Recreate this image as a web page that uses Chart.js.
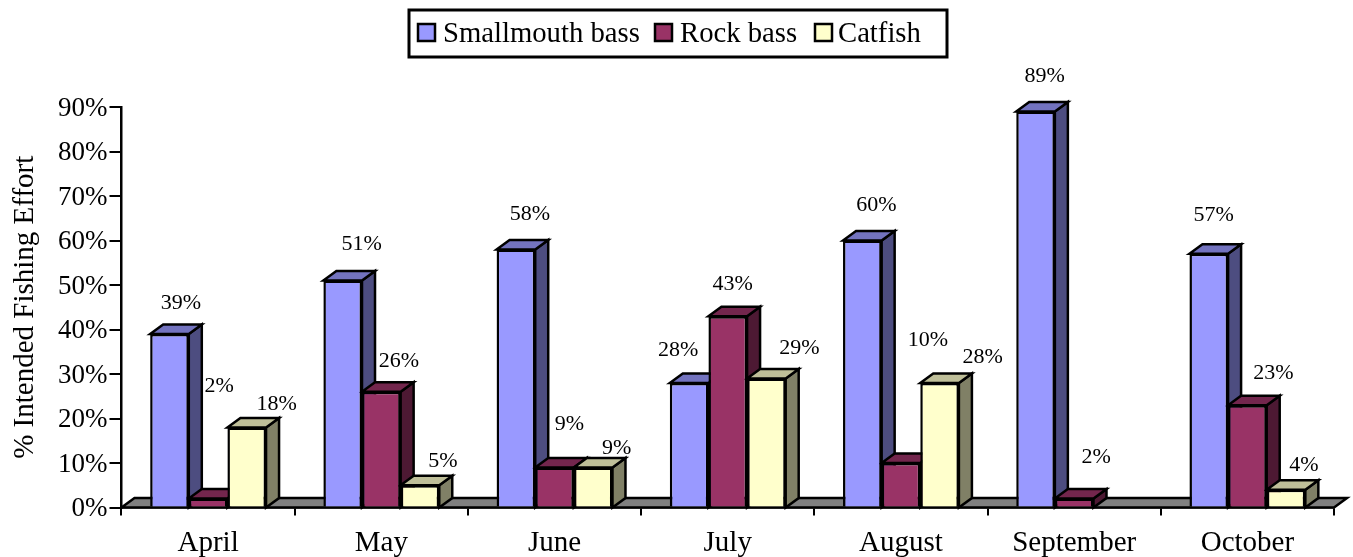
<!DOCTYPE html>
<html>
<head>
<meta charset="utf-8">
<title>Intended fishing effort</title>
<script src="https://cdn.jsdelivr.net/npm/chart.js@4"></script>
<style>
    html, body { margin: 0; padding: 0; background: #fff; }
    canvas { display: block; }
</style>
</head>
<body>
<canvas id="effort-chart" width="1353" height="557"></canvas>
<script>
const months = ['April', 'May', 'June', 'July', 'August', 'September', 'October'];
const smallmouthBass = [39, 51, 58, 28, 60, 89, 57];
const rockBass = [2, 26, 9, 43, 10, 2, 23];
const catfish = [18, 5, 9, 29, 28, null, 4];
const yTicks = [0, 10, 20, 30, 40, 50, 60, 70, 80, 90];

// hand placed data labels, [dx, dy] from the top centre of each bar
const labelOffsets = [
    [[11.5, -31], [19, -36.5], [14, -35.4], [-11, -33], [14, -35.5], [9, -35.4], [5, -39]],
    [[11, -112.6], [17.5, -31], [15, -43.5], [5, -32], [27, -123], [22, -41.6], [26, -32]],
    [[30, -23], [23, -24], [23.5, -19.5], [33, -30], [43, -26], [0, 0], [18, -24]],
];

const SERIF = '"Liberation Serif", serif';
const DEPTH_X = 13;
const DEPTH_Y = 9.5;

// side and top colours of each series, the front colour comes from the dataset
const sideColors = ['#4D4D80', '#4D1933', '#808066'];
const topColors = ['#7373BF', '#73264D', '#BFBF99'];

// legend swatch left edges and the gap from swatch edge to text
const legendX = [418, 655, 815];
const legendTextX = [443, 680, 838];

const polygon = (ctx, points, fill) => {
    ctx.beginPath();
    points.forEach((p, i) => i ? ctx.lineTo(p[0], p[1]) : ctx.moveTo(p[0], p[1]));
    ctx.closePath();
    ctx.fillStyle = fill;
    ctx.fill();
    ctx.stroke();
};

const depthPlugin = {
    id: 'depth',
    // floor and the 3d faces go under the bars, the front faces cover them
    beforeDatasetsDraw(chart) {
        const { ctx, chartArea } = chart;
        const { left, right, bottom } = chartArea;
        ctx.save();
        ctx.lineWidth = 2.5;
        ctx.strokeStyle = '#000';
        ctx.lineJoin = 'miter';
        polygon(ctx, [
            [left, bottom], [left + DEPTH_X, bottom - DEPTH_Y],
            [right + DEPTH_X, bottom - DEPTH_Y], [right, bottom],
        ], '#808080');

        months.forEach((month, m) => {
            chart.data.datasets.forEach((ds, d) => {
                if (ds.data[m] === null) return;
                const bar = chart.getDatasetMeta(d).data[m];
                const l = bar.x - bar.width / 2;
                const r = bar.x + bar.width / 2;
                polygon(ctx, [
                    [r, bar.y], [r + DEPTH_X, bar.y - DEPTH_Y],
                    [r + DEPTH_X, bottom - DEPTH_Y], [r, bottom],
                ], sideColors[d]);
                polygon(ctx, [
                    [l, bar.y], [l + DEPTH_X, bar.y - DEPTH_Y],
                    [r + DEPTH_X, bar.y - DEPTH_Y], [r, bar.y],
                ], topColors[d]);
            });
        });
        ctx.restore();
    },
    afterDatasetsDraw(chart) {
        const { ctx } = chart;
        ctx.save();
        ctx.font = '22px ' + SERIF;
        ctx.fillStyle = '#000';
        ctx.textAlign = 'center';
        ctx.textBaseline = 'middle';
        chart.data.datasets.forEach((ds, d) => {
            chart.getDatasetMeta(d).data.forEach((bar, m) => {
                if (ds.data[m] === null) return;
                const offset = labelOffsets[d][m];
                ctx.fillText(ds.data[m] + '%', bar.x + offset[0], bar.y + offset[1]);
            });
        });
        ctx.restore();
    },
};

// legend has its own box with a tight gap between swatch and text
const legendBox = {
    id: 'legendBox',
    afterDraw(chart) {
        const { ctx } = chart;
        ctx.save();
        ctx.lineWidth = 3;
        ctx.strokeStyle = '#000';
        ctx.strokeRect(409, 10, 538, 47);
        ctx.font = '28.7px ' + SERIF;
        ctx.textBaseline = 'alphabetic';
        ctx.textAlign = 'left';
        chart.data.datasets.forEach((ds, d) => {
            ctx.fillStyle = ds.backgroundColor;
            ctx.lineWidth = 2.5;
            ctx.fillRect(legendX[d], 24, 17, 17);
            ctx.strokeRect(legendX[d], 24, 17, 17);
            ctx.fillStyle = '#000';
            ctx.fillText(ds.label, legendTextX[d], 42);
        });
        ctx.restore();
    },
};

const barStyle = {
    borderColor: '#000',
    borderWidth: 2.5,
    categoryPercentage: 0.669,
    barPercentage: 1,
};

new Chart(document.getElementById('effort-chart').getContext('2d'), {
    type: 'bar',
    data: {
        labels: months,
        datasets: [
            { label: 'Smallmouth bass', data: smallmouthBass, backgroundColor: '#9999FF', ...barStyle },
            { label: 'Rock bass', data: rockBass, backgroundColor: '#993366', ...barStyle },
            { label: 'Catfish', data: catfish, backgroundColor: '#FFFFCC', ...barStyle },
        ],
    },
    plugins: [depthPlugin, legendBox],
    options: {
        responsive: false,
        animation: false,
        layout: {
            padding: { top: 107, right: 19, bottom: 0, left: 0 },
        },
        plugins: {
            legend: { display: false },
            title: { display: false },
            tooltip: { enabled: false },
        },
        scales: {
            x: {
                afterFit(scale) { scale.height = 49.5; },
                border: { color: '#000', width: 2.5 },
                grid: {
                    offset: true,
                    drawOnChartArea: false,
                    color: '#000',
                    lineWidth: 2,
                    tickLength: 8,
                },
                ticks: {
                    color: '#000',
                    font: { family: SERIF, size: 29 },
                    maxRotation: 0,
                    padding: 10,
                },
            },
            y: {
                min: 0,
                max: 90,
                afterBuildTicks(scale) { scale.ticks = yTicks.map(v => ({ value: v })); },
                afterFit(scale) { scale.width = 121.5; },
                border: { color: '#000', width: 2.5 },
                grid: {
                    drawOnChartArea: false,
                    color: '#000',
                    lineWidth: 2,
                    tickLength: 12,
                },
                ticks: {
                    color: '#000',
                    font: { family: SERIF, size: 27 },
                    padding: 2,
                    labelOffset: 1.5,
                    callback: value => value + '%',
                },
                title: {
                    display: true,
                    text: '% Intended Fishing Effort',
                    color: '#000',
                    font: { family: SERIF, size: 29, weight: 'normal' },
                    padding: { top: 8, bottom: 0 },
                },
            },
        },
    },
});
</script>
</body>
</html>
